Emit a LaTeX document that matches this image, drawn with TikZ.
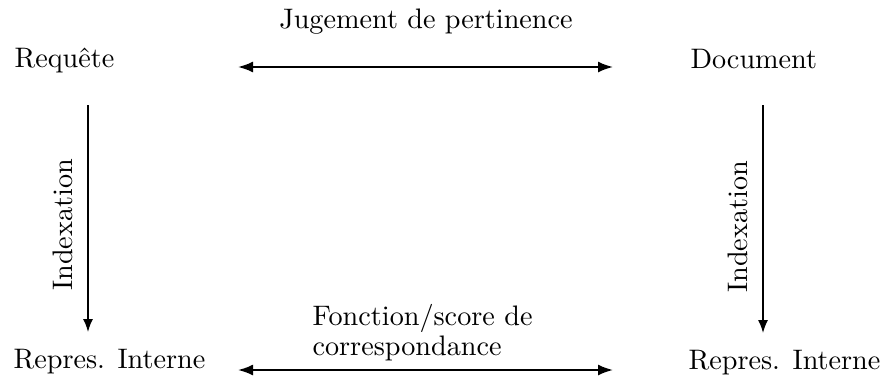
\documentclass[tikz,border=0pt]{standalone}
\usetikzlibrary{arrows.meta}
\begin{document}
\begin{tikzpicture}[x=1pt,y=-1pt,
  txt/.style={inner sep=0pt,scale=2.82,font=\fontsize{10}{10.3}\selectfont},
  harrow/.style={line width=2pt,{Latex[length=15pt,width=11pt]}-{Latex[length=15pt,width=11pt]}},
  varrow/.style={line width=1.5pt,-{Latex[length=13pt,width=10pt]}}]
\useasboundingbox (0,0) rectangle (882,380);
\node[txt,anchor=base west] (req) at (14,67) {Requête};
\node[txt,anchor=base west] (doc) at (690,68) {Document};
\node[txt,anchor=base west] (rl) at (13,368) {Repres. Interne};
\node[txt,anchor=base west] (rr) at (688,369) {Repres. Interne};
\node[txt,anchor=base] (jug) at (426,28) {Jugement de pertinence};
\node[txt,anchor=base west,align=left] (fon) at (312,355) {Fonction/score de\\correspondance};
\coordinate (t1) at (238,67);
\coordinate (t2) at (613,67);
\coordinate (b1) at (238,370);
\coordinate (b2) at (613,370);
\coordinate (l1) at (88,105);
\coordinate (l2) at (88,332);
\coordinate (r1) at (763,105);
\coordinate (r2) at (763,333);
\draw[harrow] (t1) -- (t2);
\draw[harrow] (b1) -- (b2);
\draw[varrow] (l1) -- (l2);
\draw[varrow] (r1) -- (r2);
\node[txt,anchor=base,rotate=90] (il) at (72,225) {Indexation};
\node[txt,anchor=base,rotate=90] (ir) at (747,227) {Indexation};
\end{tikzpicture}
\end{document}
